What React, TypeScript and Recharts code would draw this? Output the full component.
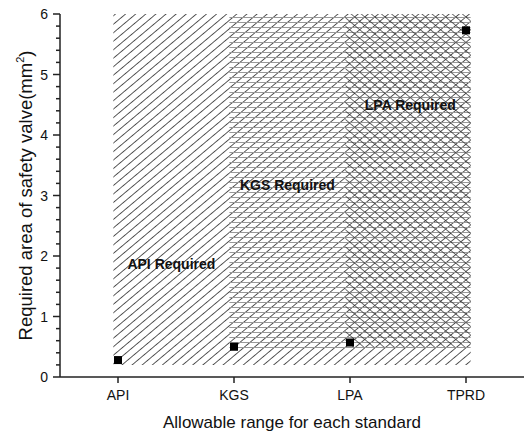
import React from 'react';
import {
  ScatterChart,
  Scatter,
  XAxis,
  YAxis,
  ReferenceArea,
  ReferenceDot,
} from 'recharts';

// ---- data ----
const categories = ['API', 'KGS', 'LPA', 'TPRD'];
const requiredArea = [0.28, 0.5, 0.57, 5.73];
const yMajorTicks = [0, 1, 2, 3, 4, 5, 6];
const yMinorStep = 0.2;
const regionLabels = ['API Required', 'KGS Required', 'LPA Required'];
const regionLabelX = [0.46, 1.46, 2.52];
const regionLabelY = [1.86, 3.17, 4.49];

const points = categories.map((c, i) => ({ x: i, y: requiredArea[i], name: c }));
const yTicks: number[] = [];
for (let i = 0; i <= Math.round(6 / yMinorStep); i++) yTicks.push(Math.round(i * yMinorStep * 10) / 10);

const FONT = '"Liberation Sans", Arial, sans-serif';
const AXIS = '#222';
const PAD = 0.04; // half marker width in x units
const PADY = 0.08; // half marker height in y units
const last = categories.length - 1;

const YTick = (props: any) => {
  const { x, y, payload } = props;
  const v = payload.value as number;
  const major = yMajorTicks.some((t) => Math.abs(t - v) < 1e-6);
  return (
    <g>
      <line x1={x} x2={x - (major ? 7 : 4)} y1={y} y2={y} stroke={AXIS} strokeWidth={1.5} />
      {major && (
        <text x={x - 12} y={y} dy="0.36em" textAnchor="end" fontSize={14} fontFamily={FONT} fill="#111">
          {v}
        </text>
      )}
    </g>
  );
};

const YLabel = (props: any) => {
  const vb = props.viewBox || {};
  const cx = 32;
  const cy = vb.y + vb.height / 2;
  return (
    <text
      x={cx}
      y={cy}
      transform={`rotate(-90, ${cx}, ${cy})`}
      textAnchor="middle"
      fontSize={18.5}
      fontFamily={FONT}
      fill="#111"
    >
      Required area of safety valve(mm
      <tspan fontSize={11} dy={-8}>2</tspan>
      <tspan dy={8}>)</tspan>
    </text>
  );
};

export default function App() {
  return (
    <div style={{ position: 'absolute', left: 0, top: 0, width: 526, height: 433, background: '#fff' }}>
      <ScatterChart width={526} height={433} margin={{ top: 14, right: 2, bottom: 0, left: 0 }}>
        <defs>
          <pattern id="hatchSlash" patternUnits="userSpaceOnUse" width={6.5} height={20} patternTransform="rotate(50)">
            <line x1={0} y1={0} x2={0} y2={20} stroke="#000" strokeWidth={1.3} />
          </pattern>
          <pattern id="hatchHoriz" patternUnits="userSpaceOnUse" width={20} height={5}>
            <line x1={0} y1={2.5} x2={20} y2={2.5} stroke="#999" strokeWidth={1} />
          </pattern>
          <pattern id="hatchBack" patternUnits="userSpaceOnUse" width={6.5} height={20} patternTransform="rotate(-50)">
            <line x1={0} y1={0} x2={0} y2={20} stroke="#222" strokeWidth={1.3} />
          </pattern>
        </defs>
        <XAxis
          type="number"
          dataKey="x"
          domain={[-0.5, 3.5]}
          ticks={categories.map((_, i) => i)}
          tickFormatter={(v: number) => categories[v] ?? ''}
          interval={0}
          height={56}
          axisLine={{ stroke: AXIS, strokeWidth: 1.5 }}
          tickLine={{ stroke: AXIS, strokeWidth: 1.5 }}
          tickSize={6}
          tickMargin={7}
          tick={{ fontSize: 14, fontFamily: FONT, fill: '#111' }}
          label={{
            value: 'Allowable range for each standard',
            position: 'insideBottom',
            offset: 5,
            fontSize: 17,
            fontFamily: FONT,
            fill: '#111',
          }}
        />
        <XAxis
          xAxisId="top"
          orientation="top"
          type="number"
          domain={[-0.5, 3.5]}
          height={0}
          tick={false}
          tickLine={false}
          axisLine={{ stroke: AXIS, strokeWidth: 1.5 }}
        />
        <YAxis
          type="number"
          dataKey="y"
          domain={[0, 6]}
          ticks={yTicks}
          interval={0}
          width={60}
          tickSize={0}
          tickMargin={0}
          tickLine={false}
          axisLine={{ stroke: AXIS, strokeWidth: 1.5 }}
          tick={<YTick />}
          label={<YLabel />}
        />
        <YAxis
          yAxisId="right"
          orientation="right"
          type="number"
          domain={[0, 6]}
          width={0}
          tick={false}
          tickLine={false}
          axisLine={{ stroke: AXIS, strokeWidth: 1.5 }}
        />
        <ReferenceArea
          x1={0 - PAD}
          x2={last + PAD}
          y1={requiredArea[0] - PADY}
          y2={6}
          fill="url(#hatchSlash)"
          fillOpacity={1}
          stroke="none"
        />
        <ReferenceArea
          x1={1 - PAD}
          x2={last + PAD}
          y1={requiredArea[1] - PADY}
          y2={6}
          fill="url(#hatchHoriz)"
          fillOpacity={1}
          stroke="none"
        />
        <ReferenceArea
          x1={2 - PAD}
          x2={last + PAD}
          y1={requiredArea[2] - PADY}
          y2={6}
          fill="url(#hatchBack)"
          fillOpacity={1}
          stroke="none"
        />
        {regionLabels.map((t, i) => (
          <ReferenceDot
            key={t}
            x={regionLabelX[i]}
            y={regionLabelY[i]}
            r={0}
            stroke="none"
            fill="none"
            label={{
              value: t,
              position: 'center',
              fontSize: 14,
              fontWeight: 'bold',
              fontFamily: FONT,
              fill: '#111',
            }}
          />
        ))}
        <Scatter data={points} dataKey="y" fill="#000" shape="square" isAnimationActive={false} />
      </ScatterChart>
    </div>
  );
}
